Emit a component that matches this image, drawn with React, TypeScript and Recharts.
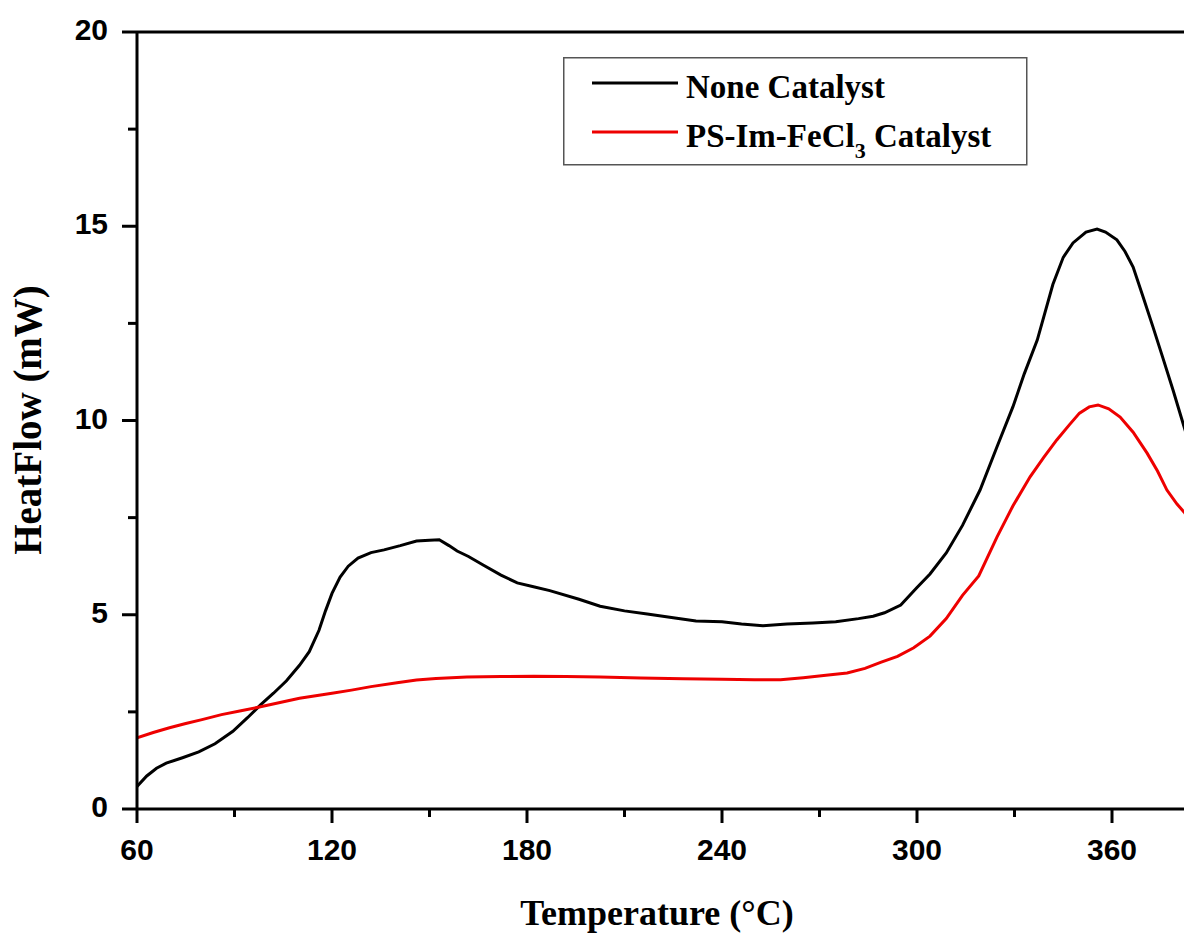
import React from "react";
import { LineChart, Line, XAxis, YAxis, Legend, ReferenceLine } from "recharts";

const noneTemp = [60, 63, 66, 69, 74, 79, 84, 89.5, 94, 98, 102, 106, 110, 113, 116, 118, 120, 122.5, 125, 128, 132, 136, 141, 146, 150, 153, 156, 158.5, 162, 166.5, 172, 177, 182, 187, 196, 202.5, 210, 217, 225, 232, 240, 246, 252.6, 260, 268, 275, 282, 286.5, 290, 295, 300, 304, 309, 314, 319.4, 324.5, 329.5, 333, 337, 341.8, 345, 348, 352, 355.4, 358, 361.5, 364, 366.5, 369.5, 372.6, 375.7, 378.8, 382.2, 384];
const noneFlow = [0.58, 0.85, 1.05, 1.18, 1.32, 1.47, 1.68, 2.0, 2.35, 2.68, 2.98, 3.3, 3.7, 4.05, 4.6, 5.1, 5.55, 5.97, 6.25, 6.46, 6.6, 6.67, 6.78, 6.9, 6.92, 6.93, 6.78, 6.64, 6.5, 6.28, 6.02, 5.82, 5.72, 5.62, 5.4, 5.22, 5.1, 5.02, 4.92, 4.84, 4.82, 4.76, 4.72, 4.76, 4.79, 4.82, 4.9, 4.96, 5.05, 5.25, 5.7, 6.05, 6.59, 7.3, 8.21, 9.3, 10.35, 11.2, 12.07, 13.5, 14.2, 14.57, 14.85, 14.93, 14.85, 14.65, 14.35, 13.95, 13.2, 12.41, 11.6, 10.78, 9.83, 9.35];

const catTemp = [60, 65, 70, 75, 80, 86, 92, 98, 104, 110, 116, 120, 126, 132, 140, 146, 152, 161.5, 172, 182, 192, 202.5, 215, 228, 240, 250, 258, 265, 272, 278.5, 284, 289, 294, 299, 304, 309, 314, 319, 324.6, 329.5, 334.8, 339, 343, 347, 350, 353, 355.7, 359, 362.5, 366.5, 370.8, 374, 376.9, 380, 382.2, 384];
const catFlow = [1.83, 1.97, 2.09, 2.2, 2.3, 2.43, 2.53, 2.63, 2.74, 2.85, 2.93, 2.98, 3.06, 3.15, 3.25, 3.32, 3.36, 3.4, 3.41, 3.42, 3.41, 3.4, 3.37, 3.35, 3.34, 3.33, 3.33, 3.38, 3.44, 3.5, 3.62, 3.78, 3.93, 4.15, 4.45, 4.9, 5.5, 6.0, 7.0, 7.8, 8.55, 9.05, 9.5, 9.9, 10.19, 10.35, 10.4, 10.3, 10.09, 9.7, 9.16, 8.7, 8.21, 7.85, 7.64, 7.45];

const xTicks = [60, 90, 120, 150, 180, 210, 240, 270, 300, 330, 360, 390];
const xMajor = [60, 120, 180, 240, 300, 360];
const yTicks = [0, 2.5, 5, 7.5, 10, 12.5, 15, 17.5, 20];
const yMajor = [0, 5, 10, 15, 20];

const seriesNames = ["None Catalyst", "PS-Im-FeCl3 Catalyst"];
const seriesColors = ["#000000", "#ee0000"];

const noneData = noneTemp.map((t, i) => ({ t, v: noneFlow[i] }));
const catData = catTemp.map((t, i) => ({ t, v: catFlow[i] }));

const tickFont = '"Liberation Sans", Arial, sans-serif';
const serif = '"Liberation Serif", "Times New Roman", serif';

const XTick = (props: any) => {
  const { x, y, payload } = props;
  const major = xMajor.includes(payload.value);
  return (
    <g>
      <line x1={x} x2={x} y1={y} y2={y + (major ? 14 : 8)} stroke="#000" strokeWidth={3} />
      {major && (
        <text x={x} y={y + 51} textAnchor="middle" fontFamily={tickFont} fontWeight="bold" fontSize={30} fill="#000">
          {payload.value}
        </text>
      )}
    </g>
  );
};

const YTick = (props: any) => {
  const { x, y, payload } = props;
  const major = yMajor.includes(payload.value);
  return (
    <g>
      <line x1={x} x2={x - (major ? 15 : 9)} y1={y} y2={y} stroke="#000" strokeWidth={3} />
      {major && (
        <text x={x - 29} y={y + 8} textAnchor="end" fontFamily={tickFont} fontWeight="bold" fontSize={30} fill="#000">
          {payload.value}
        </text>
      )}
    </g>
  );
};

const renderName = (name: string) => {
  const idx = name.indexOf("Cl3");
  if (idx < 0) return name;
  return (
    <>
      {name.slice(0, idx + 2)}
      <tspan dy={11} fontSize={22}>3</tspan>
      <tspan dy={-11}>{name.slice(idx + 3)}</tspan>
    </>
  );
};

const LegendBox = (props: any) => {
  const payload = props.payload || [];
  return (
    <svg width={466} height={110} style={{ display: "block" }}>
      <rect x={0.75} y={0.75} width={463} height={107} fill="#fff" stroke="#555" strokeWidth={1.5} />
      {payload.map((p: any, i: number) => (
        <g key={i}>
          <line x1={29} x2={115} y1={26 + i * 49} y2={26 + i * 49} stroke={p.color} strokeWidth={3} />
          <text x={123} y={41 + i * 49} fontFamily={serif} fontWeight="bold" fontSize={33} fill="#000">
            {renderName(p.value)}
          </text>
        </g>
      ))}
    </svg>
  );
};

const XTitle = () => (
  <text x={657} y={925} textAnchor="middle" fontFamily={serif} fontWeight="bold" fontSize={36} fill="#000">
    Temperature (°C)
  </text>
);

const YTitle = () => (
  <text x={41} y={420} transform="rotate(-90, 41, 420)" textAnchor="middle" fontFamily={serif} fontWeight="bold" fontSize={39} fill="#000">
    HeatFlow (mW)
  </text>
);

export default function App() {
  return (
    <div style={{ position: "absolute", left: 0, top: 0, width: 1184, height: 936, overflow: "hidden", background: "#fff" }}>
      <LineChart width={1250} height={936} margin={{ top: 32, right: 8, bottom: 0, left: 0 }}>
        <XAxis
          type="number"
          dataKey="t"
          domain={[60, 400]}
          ticks={xTicks}
          allowDataOverflow
          height={127}
          tickSize={0}
          tickMargin={0}
          tickLine={false}
          axisLine={{ stroke: "#000", strokeWidth: 3 }}
          tick={<XTick />}
          interval={0}
          label={{ content: () => <XTitle /> }}
        />
        <YAxis
          type="number"
          dataKey="v"
          domain={[0, 20]}
          ticks={yTicks}
          width={137}
          tickSize={0}
          tickMargin={0}
          tickLine={false}
          axisLine={{ stroke: "#000", strokeWidth: 3 }}
          tick={<YTick />}
          interval={0}
          label={{ content: () => <YTitle /> }}
        />
        <ReferenceLine y={20} stroke="#000" strokeWidth={3} ifOverflow="visible" />
        <Legend
          layout="vertical"
          align="center"
          verticalAlign="middle"
          content={<LegendBox />}
          wrapperStyle={{ left: 563, top: 57, width: 466, height: 110, margin: 0 }}
        />
        <Line data={noneData} dataKey="v" name={seriesNames[0]} stroke={seriesColors[0]} strokeWidth={3} dot={false} type="linear" isAnimationActive={false} />
        <Line data={catData} dataKey="v" name={seriesNames[1]} stroke={seriesColors[1]} strokeWidth={3} dot={false} type="linear" isAnimationActive={false} />
      </LineChart>
    </div>
  );
}
